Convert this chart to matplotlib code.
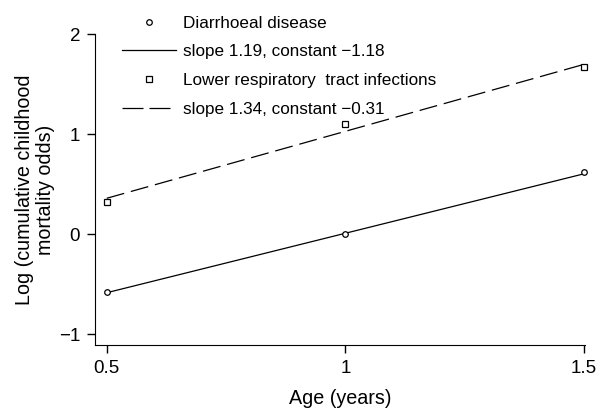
import matplotlib
matplotlib.use('Agg')
import matplotlib.pyplot as plt
from matplotlib.lines import Line2D

plt.rcParams['font.family'] = ['Liberation Sans', 'DejaVu Sans']

# observed values
age = [0.5, 1.0, 1.5]
diarrhoea = [-0.58, 0.0, 0.62]
lri = [0.32, 1.10, 1.67]

# fitted lines, read at the ends of the age range
fit_age = [0.5, 1.5]
diarrhoea_fit = [-0.585, 0.605]
lri_fit = [0.36, 1.70]

labels = ['Diarrhoeal disease', 'slope 1.19, constant \u22121.18',
          'Lower respiratory  tract infections', 'slope 1.34, constant \u22120.31']
xticks = [0.5, 1.0, 1.5]
xticklabels = ['0.5', '1', '1.5']
yticks = [-1, 0, 1, 2]
yticklabels = ['\u22121', '0', '1', '2']

fig = plt.figure(figsize=(6, 4.09), dpi=100)
ax = fig.add_axes([0.158, 0.156, 0.817, 0.760])

dash = (14.5, 5.5)
lw = 0.9
ax.plot(fit_age, diarrhoea_fit, '-', color='black', lw=lw)
ax.plot(fit_age, lri_fit, color='black', lw=lw, dashes=dash)
ax.plot(age, diarrhoea, 'o', mfc='white', mec='black', ms=4, mew=0.9, clip_on=False, zorder=3)
ax.plot(age, lri, 's', mfc='white', mec='black', ms=5, mew=0.9, clip_on=False, zorder=3)

ax.set_xlim(0.475, 1.502)
ax.set_ylim(-1.11, 2.0)
ax.set_xticks(xticks)
ax.set_xticklabels(xticklabels)
ax.set_yticks(yticks)
ax.set_yticklabels(yticklabels)
ax.spines['top'].set_visible(False)
ax.spines['right'].set_visible(False)
ax.tick_params(direction='out', length=6, width=1, labelsize=13.5)
ax.tick_params(axis='x', pad=5)
ax.tick_params(axis='y', pad=4.5)
ax.set_xlabel('Age (years)', fontsize=14.2, labelpad=8)
ax.set_ylabel('Log (cumulative childhood\nmortality odds)', fontsize=14.2,
              labelpad=3, linespacing=1.1)

## legend at the top, over the plot
handles = [
    Line2D([], [], ls='none', marker='o', mfc='white', mec='black', ms=4, mew=0.9),
    Line2D([], [], ls='-', color='black', lw=lw),
    Line2D([], [], ls='none', marker='s', mfc='white', mec='black', ms=5, mew=0.9),
    Line2D([], [], color='black', lw=lw, dashes=(16.8, 4.8)),
]
fig.legend(handles, labels, loc='upper left', bbox_to_anchor=(0.203, 0.962),
           frameon=False, fontsize=12.3, handlelength=3.16, handletextpad=0.41,
           labelspacing=0.80, borderpad=0, borderaxespad=0)

fig.savefig('out.png', dpi=100)
